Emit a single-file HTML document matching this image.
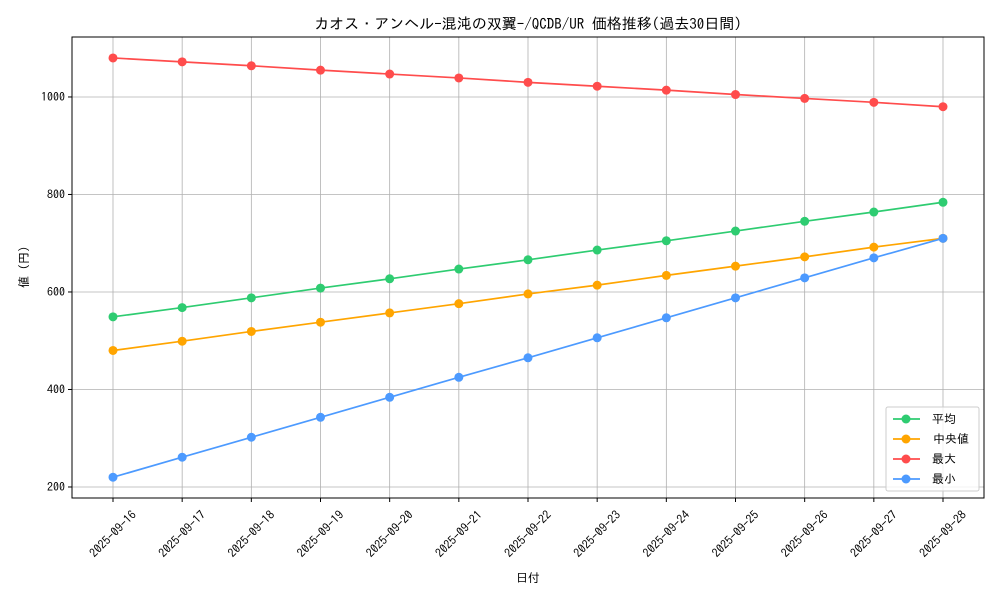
<!DOCTYPE html>
<html><head><meta charset="utf-8"><style>
body{margin:0;background:#fff;}
svg text{font-family:"IPAGothic","Liberation Sans","Noto Sans CJK JP",sans-serif;fill:#000;}
</style></head><body>
<svg id="chart" width="1000" height="600" xmlns="http://www.w3.org/2000/svg">
<text x="528" y="29" font-size="15" text-anchor="middle">カオス・アンヘル-混沌の双翼-/QCDB/UR 価格推移(過去30日間)</text>
<g id="grid"></g>
<rect x="72" y="37" width="912" height="461" fill="none" stroke="#000" stroke-width="1"/>
<g id="axes"></g>
<g id="series"></g>
<text x="528" y="582" font-size="12" text-anchor="middle">日付</text>
<text x="0" y="0" font-size="12" text-anchor="middle" transform="translate(28,267) rotate(-90)">値 (円)</text>
<g id="legend"></g>
</svg>
<script>
const categories=["2025-09-16","2025-09-17","2025-09-18","2025-09-19","2025-09-20","2025-09-21","2025-09-22","2025-09-23","2025-09-24","2025-09-25","2025-09-26","2025-09-27","2025-09-28"];
const avgValues=[549,568,588,608,627,647,666,686,705,725,745,764,784];
const medianValues=[480,499,519,538,557,576,596,614,634,653,672,692,710];
const maxValues=[1080,1072,1064,1055,1047,1039,1030,1022,1014,1005,997,989,980];
const minValues=[220,261,302,343,384,425,465,506,547,588,629,670,710];
const yTicks=[200,400,600,800,1000];
const seriesNames=["平均","中央値","最大","最小"];
const NS="http://www.w3.org/2000/svg";
const L=72,R=984,T=37,B=498,yMin=177.4,yMax=1123;
const x0=113,x1=943;
function xs(i){return x0+(x1-x0)*i/(categories.length-1);}
function ys(v){return B-(v-yMin)/(yMax-yMin)*(B-T);}
function mk(tag,attrs,parent){const e=document.createElementNS(NS,tag);for(const k in attrs)e.setAttribute(k,attrs[k]);parent.appendChild(e);return e;}
const grid=document.getElementById('grid'),axes=document.getElementById('axes'),ser=document.getElementById('series'),leg=document.getElementById('legend');
categories.forEach((c,i)=>{
 const x=xs(i);
 const g=mk('line',{x1:x,x2:x,y1:T,y2:B,stroke:'#b0b0b0','stroke-width':0.8},grid);
 
 
 const tk=mk('line',{x1:x,x2:x,y1:B,y2:B+4,stroke:'#000'},axes);
 
 
 const t=mk('text',{x:0,y:4,'font-size':12,'text-anchor':'middle',transform:`translate(${x},${B+36}) rotate(-45)`},axes);
 t.textContent=c;
 
 
});
yTicks.forEach(v=>{
 const y=ys(v);
 const g=mk('line',{x1:L,x2:R,y1:y,y2:y,stroke:'#b0b0b0','stroke-width':0.8},grid);
 
 
 const tk=mk('line',{x1:L-4,x2:L,y1:y,y2:y,stroke:'#000'},axes);
 
 
 const t=mk('text',{x:L-7,y:y+4,'font-size':12,'text-anchor':'end'},axes);
 t.textContent=v;
 
 
});
const all=[[avgValues,'#2ecc71','average'],[medianValues,'#ffa500','median'],[maxValues,'#ff4c4c','max'],[minValues,'#4c9aff','min']];
all.forEach(([vals,col,nm])=>{
 const g=mk('g',{},ser);
 
 
 const p=mk('polyline',{points:vals.map((v,i)=>xs(i)+','+ys(v)).join(' '),fill:'none',stroke:col,'stroke-width':1.7},g);
 
 
 vals.forEach((v,i)=>{
  const c=mk('circle',{cx:xs(i),cy:ys(v),r:4.5,fill:col},g);
  
  
 });
});
const lb=mk('rect',{x:886,y:407,width:93,height:84,fill:'#fff','fill-opacity':0.8,stroke:'#ccc',rx:2},leg);


all.forEach(([vals,col,nm],k)=>{
 const y=419+k*20;
 const g=mk('g',{},leg);
 
 
 mk('line',{x1:893,x2:920,y1:y,y2:y,stroke:col,'stroke-width':1.7},g);
 mk('circle',{cx:906,cy:y,r:4.5,fill:col},g);
 const t=mk('text',{x:(nm==='median'?933:932),y:y+4,'font-size':12},g);
 t.textContent=seriesNames[k];
});
</script>
</body></html>
